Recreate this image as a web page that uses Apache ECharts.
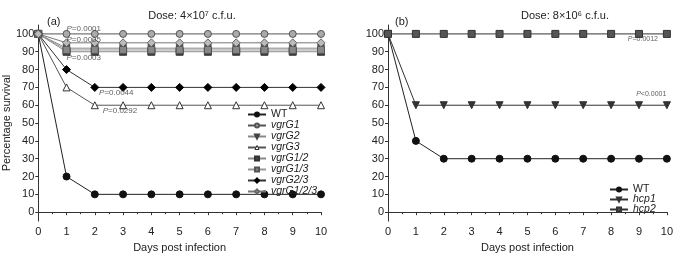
<!DOCTYPE html>
<html>
<head>
<meta charset="utf-8">
<script src="https://cdn.jsdelivr.net/npm/echarts@6/dist/echarts.min.js"></script>
<style>
  html, body { margin: 0; padding: 0; background: #fff; }
  #chart { width: 676px; height: 258px; }
</style>
</head>
<body>
<div id="chart"></div>
<script>
// days post infection
var days = [0, 1, 2, 3, 4, 5, 6, 7, 8, 9, 10];
var yTicks = [0, 10, 20, 30, 40, 50, 60, 70, 80, 90, 100];

// panel (a) dose 4x10^7
var wtA      = [100, 20, 10, 10, 10, 10, 10, 10, 10, 10, 10];
var vgrG1    = [100, 100, 100, 100, 100, 100, 100, 100, 100, 100, 100];
var vgrG2    = [100, 92, 92, 92, 92, 92, 92, 92, 92, 92, 92];
var vgrG3    = [100, 70, 60, 60, 60, 60, 60, 60, 60, 60, 60];
var vgrG12   = [100, 90, 90, 90, 90, 90, 90, 90, 90, 90, 90];
var vgrG13   = [100, 91, 91, 91, 91, 91, 91, 91, 91, 91, 91];
var vgrG23   = [100, 80, 70, 70, 70, 70, 70, 70, 70, 70, 70];
var vgrG123  = [100, 95, 95, 95, 95, 95, 95, 95, 95, 95, 95];

// panel (b) dose 8x10^6
var wtB  = [100, 40, 30, 30, 30, 30, 30, 30, 30, 30, 30];
var hcp1 = [100, 60, 60, 60, 60, 60, 60, 60, 60, 60, 60];
var hcp2 = [100, 100, 100, 100, 100, 100, 100, 100, 100, 100, 100];

// P value notes: [text, day, value]
var pNotesA = [['=0.0001', 1.0, 102.8], ['=0.0005', 1.0, 96.9], ['=0.0003', 1.0, 86.6], ['=0.0044', 2.15, 67.2], ['=0.0292', 2.28, 57]];
var pNotesB = [['=0.0012', 8.6, 97.2], ['<0.0001', 8.9, 66.5]];

var font = 'Liberation Sans, Arial, sans-serif';
var ink = '#222';

function pts(vals) {
  return days.map(function (d, i) { return [d, vals[i]]; });
}

function line(name, vals, gi, sym, fill, border, lineColor, size, rot) {
  return {
    name: name,
    type: 'line',
    xAxisIndex: gi,
    yAxisIndex: gi,
    data: pts(vals),
    symbol: sym,
    symbolSize: size || 7,
    symbolRotate: rot || 0,
    showAllSymbol: true,
    animation: false,
    lineStyle: { color: lineColor, width: 1 },
    itemStyle: { color: fill, borderColor: border, borderWidth: 1, opacity: 1 },
    emphasis: { disabled: true },
    z: 3
  };
}

function notes(list, gi, size) {
  return {
    type: 'scatter',
    xAxisIndex: gi,
    yAxisIndex: gi,
    symbolSize: 0,
    silent: true,
    animation: false,
    data: list.map(function (n) { return { value: [n[1], n[2]], txt: n[0] }; }),
    label: {
      show: true,
      position: 'right',
      distance: 0,
      formatter: function (p) { return '{i|P}{n|' + p.data.txt + '}'; },
      rich: {
        i: { fontStyle: 'italic', fontSize: size, color: '#333', fontFamily: font },
        n: { fontSize: size, color: '#333', fontFamily: font }
      }
    },
    z: 5
  };
}

function xAx(gi) {
  return {
    gridIndex: gi,
    type: 'value',
    min: 0, max: 10, interval: 1,
    name: 'Days post infection',
    nameLocation: 'middle',
    nameGap: 18,
    nameTextStyle: { color: ink, fontSize: 11, fontFamily: font },
    axisLine: { lineStyle: { color: '#333', width: 1 } },
    axisTick: { length: 3, lineStyle: { color: '#333' } },
    minorTick: { show: true, splitNumber: 2, length: 2, lineStyle: { color: '#333' } },
    axisLabel: { color: ink, fontSize: 11, fontFamily: font, margin: 5 },
    splitLine: { show: false }
  };
}

function yAx(gi, withName) {
  return {
    gridIndex: gi,
    type: 'value',
    min: -5, max: 105,
    name: withName ? 'Percentage survival' : '',
    nameLocation: 'middle',
    nameGap: 25,
    nameTextStyle: { color: ink, fontSize: 11, fontFamily: font },
    axisLine: { show: true, lineStyle: { color: '#333', width: 1 } },
    axisTick: { show: true, length: 3, customValues: yTicks, lineStyle: { color: '#333' } },
    axisLabel: { color: ink, fontSize: 11, fontFamily: font, margin: 4, customValues: yTicks },
    splitLine: { show: false }
  };
}

function legendItems(names) {
  return names.map(function (n) {
    var it = { name: n, textStyle: { fontStyle: n === 'WT' ? 'normal' : 'italic' } };
    if (n === 'vgrG3') {
      it.itemStyle = { color: '#fff', borderColor: '#333', borderWidth: 1 };
    }
    return it;
  });
}

var option = {
  backgroundColor: '#fff',
  animation: false,
  textStyle: { fontFamily: font },
  title: [
    { text: 'Dose: 4×10⁷ c.f.u.', left: 187, top: 5, textAlign: 'center',
      textStyle: { fontSize: 11, fontWeight: 'normal', color: ink, fontFamily: font } },
    { text: 'Dose: 8×10⁶ c.f.u.', left: 560, top: 5, textAlign: 'center',
      textStyle: { fontSize: 11, fontWeight: 'normal', color: ink, fontFamily: font } },
    { text: '(a)', left: 42, top: 11,
      textStyle: { fontSize: 11, fontWeight: 'normal', color: ink, fontFamily: font } },
    { text: '(b)', left: 390, top: 11,
      textStyle: { fontSize: 11, fontWeight: 'normal', color: ink, fontFamily: font } }
  ],
  grid: [
    { left: 37, right: 355, top: 25, bottom: 34 },
    { left: 388, right: 6, top: 25, bottom: 34 }
  ],
  xAxis: [xAx(0), xAx(1)],
  yAxis: [yAx(0, true), yAx(1, false)],
  legend: [
    {
      orient: 'vertical', left: 247, top: 109, padding: 0,
      itemWidth: 18, itemHeight: 5, itemGap: 0,
      textStyle: { fontSize: 10.5, color: ink, fontFamily: font },
      selectedMode: false,
      data: legendItems(['WT', 'vgrG1', 'vgrG2', 'vgrG3', 'vgrG1/2', 'vgrG1/3', 'vgrG2/3', 'vgrG1/2/3'])
    },
    {
      orient: 'vertical', left: 609, top: 184, padding: 0,
      itemWidth: 18, itemHeight: 5, itemGap: -1,
      textStyle: { fontSize: 10.5, color: ink, fontFamily: font },
      selectedMode: false,
      data: legendItems(['WT', 'hcp1', 'hcp2'])
    }
  ],
  series: [
    line('WT', wtA, 0, 'circle', '#111', '#111', '#222', 7),
    line('vgrG1', vgrG1, 0, 'circle', '#aaa', '#555', '#555', 7),
    line('vgrG2', vgrG2, 0, 'triangle', '#555', '#444', '#888', 7, 180),
    line('vgrG3', vgrG3, 0, 'triangle', '#fff', '#333', '#555', 7),
    line('vgrG1/2', vgrG12, 0, 'rect', '#444', '#333', '#888', 7),
    line('vgrG1/3', vgrG13, 0, 'rect', '#888', '#555', '#999', 7),
    line('vgrG2/3', vgrG23, 0, 'diamond', '#000', '#000', '#333', 8),
    line('vgrG1/2/3', vgrG123, 0, 'diamond', '#bbb', '#666', '#777', 8),
    line('WT', wtB, 1, 'circle', '#111', '#111', '#222', 7),
    line('hcp1', hcp1, 1, 'triangle', '#333', '#333', '#333', 7, 180),
    line('hcp2', hcp2, 1, 'rect', '#555', '#333', '#333', 7),
    notes(pNotesA, 0, 8),
    notes(pNotesB, 1, 7)
  ]
};

var myChart = echarts.init(document.getElementById('chart'));
myChart.setOption(option);
</script>
</body>
</html>
